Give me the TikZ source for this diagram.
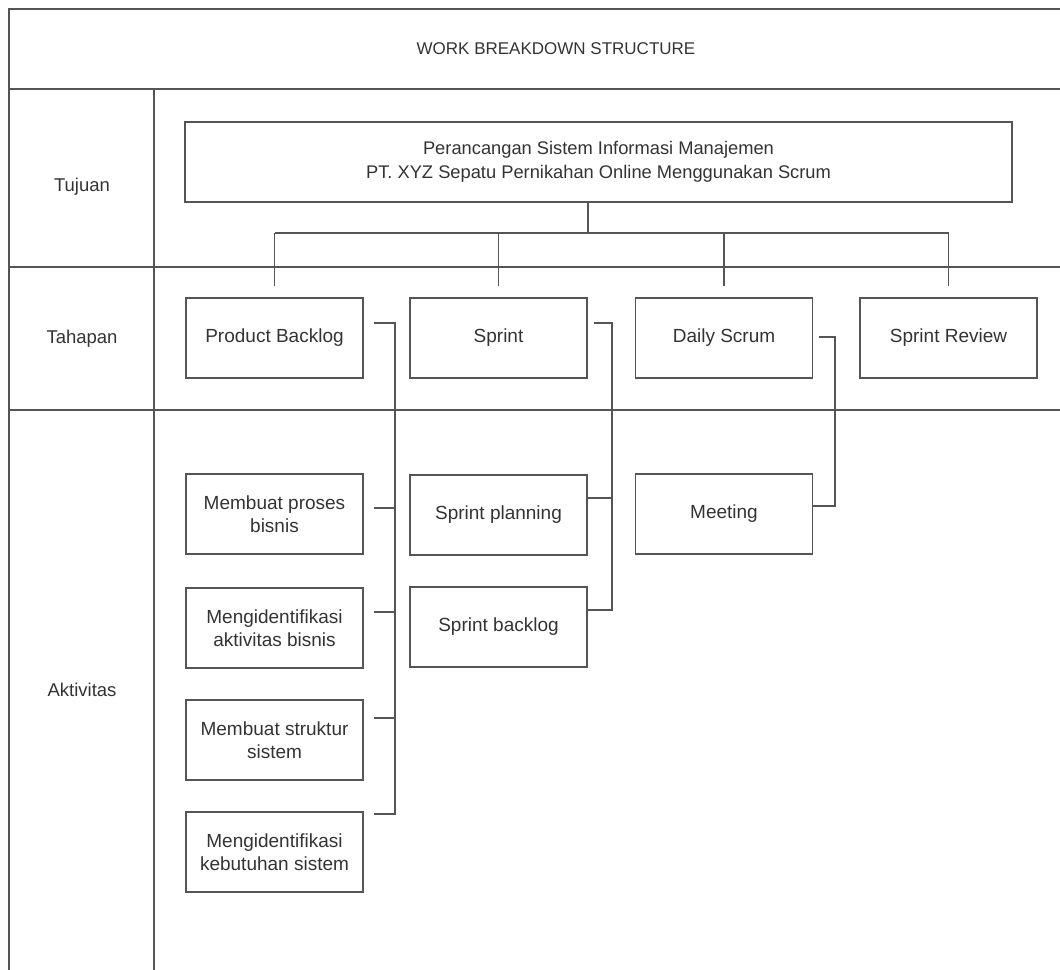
\documentclass[tikz,border=0pt]{standalone}
\usepackage{fontspec}
\setmainfont{Liberation Sans}
\usetikzlibrary{calc}
\definecolor{ink}{HTML}{555555}
\definecolor{txt}{HTML}{333333}
\begin{document}
\begin{tikzpicture}[x=1pt,y=-1pt,
  frame/.style={draw=ink,line width=2pt},
  box/.style={draw=ink,line width=1.8pt,rectangle,inner sep=0pt,align=center,
    text=txt,font=\fontsize{19}{23.5}\selectfont},
  tbox/.style={box,minimum width=177pt,minimum height=80pt},
  lbl/.style={text=txt,font=\fontsize{18.5}{22}\selectfont},
  link/.style={draw=ink,line width=1.4pt}]
\useasboundingbox (0,0) rectangle (1060,969);
% table frame
\draw[frame] (1062,9) -- (9,9) -- (9,971);
\draw[frame] (9,89) -- (1062,89);
\draw[frame] (9,267) -- (1062,267);
\draw[frame] (9,410) -- (1062,410);
\draw[frame] (154,89) -- (154,971);
\node[lbl,font=\fontsize{17}{21}\selectfont] (title) at (556,49) {WORK BREAKDOWN STRUCTURE};
\node[lbl] (tujuan) at (82,187) {Tujuan};
\node[lbl] (tahapan) at (82,339) {Tahapan};
\node[lbl] (aktivitas) at (82,690) {Aktivitas};
% goal
\node[box,minimum width=827pt,minimum height=80pt,font=\fontsize{18.3}{23.5}\selectfont] (goal) at (598.5,162)
  {Perancangan Sistem Informasi Manajemen\\PT. XYZ Sepatu Pernikahan Online Menggunakan Scrum};
% stages
\node[tbox] (pb) at (274.5,338) {Product Backlog};
\node[tbox] (sp) at (498.5,338) {Sprint};
\node[tbox] (ds) at (724,338) {Daily Scrum};
\node[tbox] (sr) at (948.5,338) {Sprint Review};
% activities
\node[tbox] (a1) at (274.5,514) {Membuat proses\\bisnis};
\node[tbox] (a2) at (274.5,628) {Mengidentifikasi\\aktivitas bisnis};
\node[tbox] (a3) at (274.5,740) {Membuat struktur\\sistem};
\node[tbox] (a4) at (274.5,852) {Mengidentifikasi\\kebutuhan sistem};
\node[tbox] (s1) at (498.5,515) {Sprint planning};
\node[tbox] (s2) at (498.5,627) {Sprint backlog};
\node[tbox] (m1) at (724,514) {Meeting};
% goal to stages
\coordinate (bus) at (588,233);
\draw[link] (goal.south -| bus) -- (bus);
\draw[link] (pb.north |- bus) -- (sr.north |- bus);
\foreach \n in {pb,sp,ds,sr}{
  \coordinate (\n-drop) at ($(\n.north)+(0,-11)$);
  \draw[link] (\n.north |- bus) -- (\n-drop);
}
% product backlog activities
\coordinate (pbx) at (395,0);
\coordinate (p0) at ($(pb.east)+(10,-15)$);
\coordinate (p1) at ($(a1.east)+(10,-6)$);
\coordinate (p2) at ($(a2.east)+(10,-16)$);
\coordinate (p3) at ($(a3.east)+(10,-22)$);
\coordinate (p4) at ($(a4.north east)+(10,3)$);
\draw[link] (p0) -- (p0 -| pbx) -- (p4 -| pbx) -- (p4);
\foreach \p in {p1,p2,p3}
  \draw[link] (\p) -- (\p -| pbx);
% sprint activities
\coordinate (spx) at (612,0);
\coordinate (q0) at ($(sp.east)+(6,-15)$);
\coordinate (q1) at ($(s1.east)+(0,-17)$);
\coordinate (q2) at ($(s2.east)+(0,-17)$);
\draw[link] (q0) -- (q0 -| spx) -- (q2 -| spx) -- (q2);
\draw[link] (q1) -- (q1 -| spx);
% daily scrum activities
\coordinate (dsx) at (835,0);
\coordinate (r0) at ($(ds.east)+(6,-1)$);
\coordinate (r1) at ($(m1.east)+(0,-8)$);
\draw[link] (r0) -- (r0 -| dsx) -- (r1 -| dsx) -- (r1);
\end{tikzpicture}
\end{document}
